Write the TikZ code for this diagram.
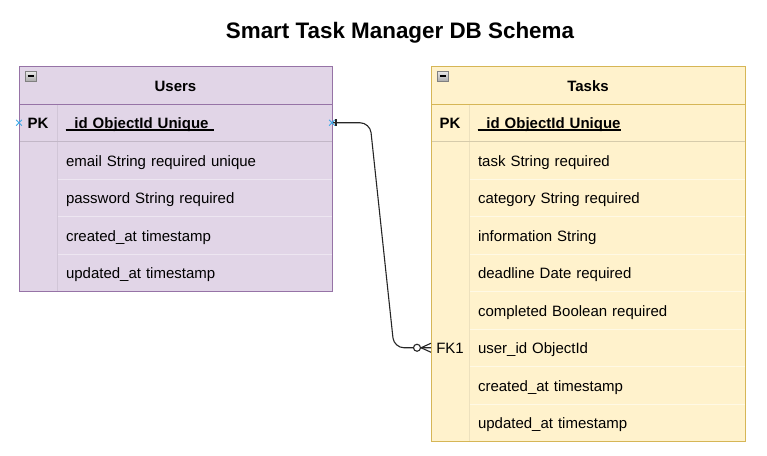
\documentclass[tikz,border=0pt]{standalone}
\usepackage{fontspec}
\setmainfont{Liberation Sans}
\usetikzlibrary{positioning,calc,backgrounds,shapes.misc}
\definecolor{userbg}{HTML}{E1D5E7}
\definecolor{userline}{HTML}{9673A6}
\definecolor{taskbg}{HTML}{FFF2CC}
\definecolor{taskline}{HTML}{D6B656}
\definecolor{markblue}{HTML}{3DA8E8}
\newcommand\tablefont{\fontsize{15}{18}\selectfont}
\newcommand\keyfield[1]{\setbox0\hbox{\bfseries#1}\rlap{\rule[-1.9pt]{\wd0}{1.2pt}}\box0}
\tikzset{
  tabhead/.style={minimum height=38pt, inner sep=0pt, outer sep=0pt, text height=14pt, text depth=2pt, font=\tablefont\bfseries},
  keycell/.style={minimum width=38pt, minimum height=37.5pt, inner sep=0pt, outer sep=0pt, text height=13.5pt, text depth=2.5pt, font=\tablefont\bfseries},
  fieldcell/.style={minimum width=#1, minimum height=37.5pt, text width=#1-18pt, inner xsep=9pt, inner ysep=0pt, outer sep=0pt, text height=14pt, text depth=2pt, align=left, font=\tablefont},
  fieldcell/.default=275pt,
  conpt/.style={cross out, draw=markblue, minimum size=5pt, inner sep=0pt, line width=0.8pt},
  relline/.style={black!85, line width=1.1pt},
  minusbox/.style={top color=gray!15, bottom color=gray!65, draw=gray, line width=0.7pt}
}

\begin{document}
\begin{tikzpicture}[x=1pt, y=-1pt]
\useasboundingbox (0,0) rectangle (767,455);

% title
\node[font=\fontsize{22.4}{26}\selectfont\bfseries] (title) at (400,33) {Smart Task Manager DB Schema};

% Users table
\node[tabhead, minimum width=313pt, anchor=north west] (uhead) at (19,66) {Users};
\node[keycell, anchor=north west] (upk) at (uhead.south west) {PK};
\node[fieldcell, right=0pt of upk] (uid) {\keyfield{\_id ObjectId Unique\ }};
\node[fieldcell, below=0pt of uid] (uemail) {email String required unique};
\node[fieldcell, below=0pt of uemail] (upass) {password String required};
\node[fieldcell, below=0pt of upass] (ucreated) {created\_at timestamp};
\node[fieldcell, below=0pt of ucreated] (uupdated) {updated\_at timestamp};

% Tasks table
\node[tabhead, minimum width=314pt, anchor=north west] (thead) at (431,66) {Tasks};
\node[keycell, anchor=north west] (tpk) at (thead.south west) {PK};
\node[fieldcell=276pt, right=0pt of tpk] (tid) {\keyfield{\_id ObjectId Unique}};
\node[fieldcell=276pt, below=0pt of tid] (ttask) {task String required};
\node[fieldcell=276pt, below=0pt of ttask] (tcat) {category String required};
\node[fieldcell=276pt, below=0pt of tcat] (tinfo) {information String};
\node[fieldcell=276pt, below=0pt of tinfo] (tdead) {deadline Date required};
\node[fieldcell=276pt, below=0pt of tdead] (tdone) {completed Boolean required};
\node[fieldcell=276pt, below=0pt of tdone] (tuser) {user\_id ObjectId};
\node[keycell, font=\tablefont, left=0pt of tuser] (tfk) {FK1};
\node[fieldcell=276pt, below=0pt of tuser] (tcreated) {created\_at timestamp};
\node[fieldcell=276pt, below=0pt of tcreated] (tupdated) {updated\_at timestamp};

\begin{scope}[on background layer]
\fill[userbg] (uhead.north west) rectangle (uupdated.south east);
\fill[taskbg] (thead.north west) rectangle (tupdated.south east);
\end{scope}

% inner lines of Users
\draw[userbg!60!white, line width=0.8pt] (uemail.south west) -- (uemail.south east);
\draw[userbg!60!white, line width=0.8pt] (upass.south west) -- (upass.south east);
\draw[userbg!60!white, line width=0.8pt] (ucreated.south west) -- (ucreated.south east);
\draw[userbg!93!black, line width=0.8pt] (upk.north east) -- (upk.north east |- uupdated.south);
\draw[userbg!86!black, line width=0.8pt] (upk.south west) -- (uid.south east);
\draw[userline, line width=0.9pt] (uhead.south west) -- (uhead.south east);
\draw[userline, line width=0.9pt] (uhead.north west) rectangle (uupdated.south east);

% inner lines of Tasks
\draw[taskbg!50!white, line width=0.8pt] (ttask.south west) -- (ttask.south east);
\draw[taskbg!50!white, line width=0.8pt] (tcat.south west) -- (tcat.south east);
\draw[taskbg!50!white, line width=0.8pt] (tinfo.south west) -- (tinfo.south east);
\draw[taskbg!50!white, line width=0.8pt] (tdead.south west) -- (tdead.south east);
\draw[taskbg!50!white, line width=0.8pt] (tdone.south west) -- (tdone.south east);
\draw[taskbg!50!white, line width=0.8pt] (tuser.south west) -- (tuser.south east);
\draw[taskbg!50!white, line width=0.8pt] (tcreated.south west) -- (tcreated.south east);
\draw[taskbg!93!black, line width=0.8pt] (tpk.north east) -- (tpk.north east |- tupdated.south);
\draw[taskbg!84!black, line width=0.8pt] (tpk.south west) -- (tid.south east);
\draw[taskline, line width=0.9pt] (thead.south west) -- (thead.south east);
\draw[taskline, line width=0.9pt] (thead.north west) rectangle (tupdated.south east);

% collapse boxes
\shade[minusbox] ([shift={(6,5)}]uhead.north west) rectangle ([shift={(17,15)}]uhead.north west);
\draw[line width=1.1pt] ([shift={(8.5,10)}]uhead.north west) -- ++(6,0);
\shade[minusbox] ([shift={(6,5)}]thead.north west) rectangle ([shift={(17,15)}]thead.north west);
\draw[line width=1.1pt] ([shift={(8.5,10)}]thead.north west) -- ++(6,0);

% relation
\draw[relline, rounded corners=10pt] (uid.east) -- ++(38,0) -- ($(tfk.west)+(-37,0)$) -- (tfk.west);
\draw[relline] ([xshift=4pt]uid.east) +(0,-3.5) -- +(0,3.5);
\draw[relline] ([xshift=-10pt]tfk.west) -- ([yshift=-4.5pt]tfk.west);
\draw[relline] ([xshift=-10pt]tfk.west) -- ([yshift=4.5pt]tfk.west);
\draw[relline, fill=white] ([xshift=-14pt]tfk.west) circle (3.5pt);

% connection points
\node[conpt] (uleftpt) at (upk.west) {};
\node[conpt] (urightpt) at (uid.east) {};
\end{tikzpicture}
\end{document}
